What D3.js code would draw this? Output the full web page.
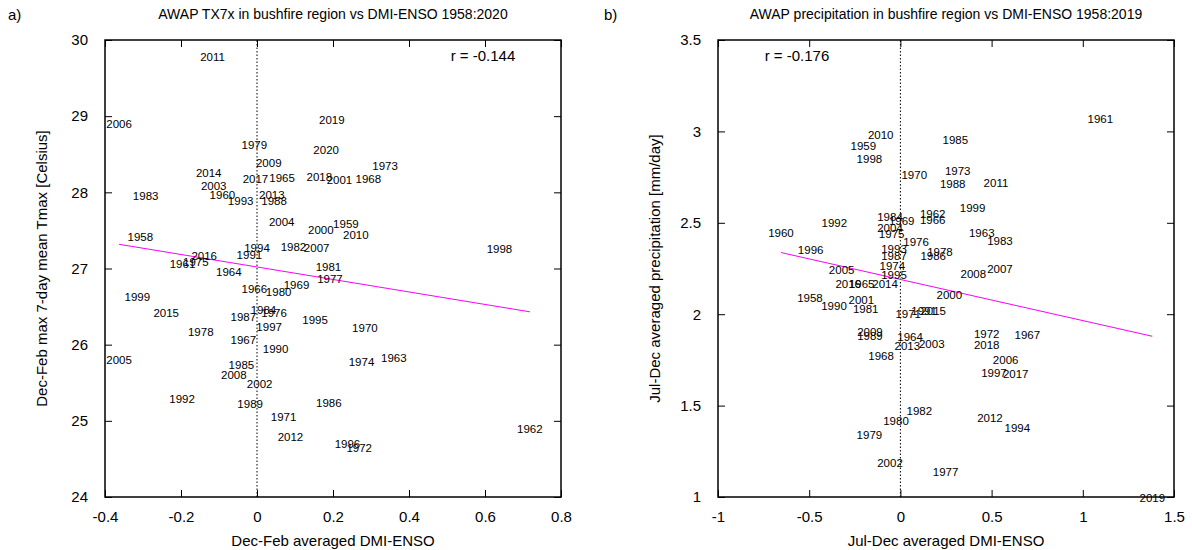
<!DOCTYPE html>
<html>
<head>
<meta charset="utf-8">
<script src="https://cdn.jsdelivr.net/npm/d3@7"></script>
<style>
  body { margin: 0; background: #fff; }
  svg text { font-family: "Liberation Sans", Arial, sans-serif; fill: #000; }
</style>
</head>
<body>
<div id="chart"></div>
<script>
// panel a) TX7x vs DMI-ENSO (Dec-Feb)
const yearsA = [1958,1959,1960,1961,1962,1963,1964,1965,1966,1967,1968,1969,1970,1971,1972,1973,1974,1975,1976,1977,1978,1979,1980,1981,1982,1983,1984,1985,1986,1987,1988,1989,1990,1991,1992,1993,1994,1995,1996,1997,1998,1999,2000,2001,2002,2003,2004,2005,2006,2007,2008,2009,2010,2011,2012,2013,2014,2015,2016,2017,2018,2019,2020];
const dmiA = [-0.307,0.234,-0.091,-0.196,0.718,0.360,-0.074,0.066,-0.007,-0.036,0.293,0.104,0.284,0.070,0.269,0.337,0.275,-0.161,0.045,0.192,-0.148,-0.007,0.057,0.188,0.096,-0.293,0.017,-0.041,0.189,-0.036,0.045,-0.018,0.049,-0.020,-0.197,-0.043,0.000,0.153,0.238,0.032,0.638,-0.315,0.168,0.217,0.007,-0.114,0.065,-0.363,-0.363,0.157,-0.061,0.031,0.260,-0.117,0.088,0.039,-0.127,-0.239,-0.139,-0.004,0.164,0.197,0.182];
const tx7xA = [27.42,27.58,27.97,27.06,24.89,25.82,26.95,28.19,26.73,26.06,28.18,26.78,26.22,25.05,24.64,28.34,25.77,27.08,26.41,26.86,26.17,28.62,26.69,27.02,27.28,27.95,26.45,25.73,25.24,26.36,27.88,25.22,25.95,27.18,25.29,27.88,27.27,26.33,24.70,26.23,27.26,26.63,27.50,28.16,25.48,28.09,27.61,25.80,28.90,27.27,25.60,28.38,27.44,29.78,24.79,27.97,28.25,26.42,27.17,28.18,28.20,28.95,28.55];
const fitA = [27.02, -0.82]; // intercept, slope
const xTicksA = [-0.4,-0.2,0,0.2,0.4,0.6,0.8];
const xTickLabelsA = ["-0.4","-0.2","0","0.2","0.4","0.6","0.8"];
const yTicksA = [24,25,26,27,28,29,30];
const yTickLabelsA = ["24","25","26","27","28","29","30"];

// panel b) precipitation vs DMI-ENSO (Jul-Dec)
const yearsB = [1958,1959,1960,1961,1962,1963,1964,1965,1966,1967,1968,1969,1970,1971,1972,1973,1974,1975,1976,1977,1978,1979,1980,1981,1982,1983,1984,1985,1986,1987,1988,1989,1990,1991,1992,1993,1994,1995,1996,1997,1998,1999,2000,2001,2002,2003,2004,2005,2006,2007,2008,2009,2010,2011,2012,2013,2014,2015,2016,2017,2018,2019];
const dmiB = [-0.496,-0.203,-0.655,1.096,0.177,0.446,0.053,-0.212,0.177,0.696,-0.106,0.007,0.076,0.043,0.473,0.314,-0.044,-0.048,0.086,0.248,0.217,-0.170,-0.024,-0.190,0.104,0.546,-0.057,0.301,0.180,-0.035,0.287,-0.167,-0.364,0.130,-0.362,-0.035,0.641,-0.035,-0.492,0.513,-0.170,0.396,0.268,-0.214,-0.057,0.172,-0.057,-0.322,0.577,0.546,0.400,-0.167,-0.108,0.524,0.491,0.038,-0.084,0.180,-0.286,0.632,0.473,1.381];
const precB = [2.087,2.919,2.447,3.067,2.550,2.447,1.877,2.168,2.513,1.884,1.773,2.511,2.762,2.002,1.892,2.786,2.263,2.440,2.394,1.135,2.339,1.338,1.417,2.027,1.472,2.400,2.530,2.952,2.321,2.321,2.711,1.883,2.043,2.020,2.501,2.358,1.380,2.217,2.349,1.680,2.849,2.583,2.106,2.078,1.188,1.837,2.471,2.243,1.749,2.248,2.221,1.901,2.979,2.720,1.435,1.828,2.168,2.020,2.168,1.673,1.833,0.993];
const fitB = [2.19, -0.225];
const xTicksB = [-1,-0.5,0,0.5,1,1.5];
const xTickLabelsB = ["-1","-0.5","0","0.5","1","1.5"];
const yTicksB = [1,1.5,2,2.5,3,3.5];
const yTickLabelsB = ["1","1.5","2","2.5","3","3.5"];

const width = 1192, height = 550;
const svg = d3.select('#chart').append('svg')
  .attr('width', width).attr('height', height);
svg.append('rect').attr('width', width).attr('height', height).attr('fill', '#fff');

function panel(opt) {
  const g = svg.append('g');
  const x = d3.scaleLinear().domain(opt.xDomain).range([opt.left, opt.left + 456]);
  const y = d3.scaleLinear().domain(opt.yDomain).range([opt.top + 457, opt.top]);
  const tl = 7;

  // dotted zero line
  g.append('line')
    .attr('x1', x(0)).attr('x2', x(0))
    .attr('y1', y.range()[0]).attr('y2', y.range()[1])
    .attr('stroke', '#000').attr('stroke-width', 1).attr('stroke-dasharray', '1.5,2');

  // axes: d3 axes with inward ticks, mirrored on top/right
  const fmtX = d => opt.xLabels[opt.xTicks.indexOf(d)];
  const fmtY = d => opt.yLabels[opt.yTicks.indexOf(d)];
  const axB = g.append('g').attr('transform', `translate(0,${y.range()[0]})`)
    .call(d3.axisBottom(x).tickValues(opt.xTicks).tickFormat(fmtX).tickSizeInner(-tl).tickSizeOuter(0).tickPadding(14));
  const axT = g.append('g').attr('transform', `translate(0,${y.range()[1]})`)
    .call(d3.axisTop(x).tickValues(opt.xTicks).tickFormat('').tickSizeInner(-tl).tickSizeOuter(0));
  const axL = g.append('g').attr('transform', `translate(${x.range()[0]},0)`)
    .call(d3.axisLeft(y).tickValues(opt.yTicks).tickFormat(fmtY).tickSizeInner(-tl).tickSizeOuter(0).tickPadding(17));
  const axR = g.append('g').attr('transform', `translate(${x.range()[1]},0)`)
    .call(d3.axisRight(y).tickValues(opt.yTicks).tickFormat('').tickSizeInner(-tl).tickSizeOuter(0));
  [axB, axT, axL, axR].forEach(a => {
    a.select('.domain').remove();
    a.selectAll('line').attr('stroke', '#000').attr('stroke-width', 1);
    a.selectAll('text').style('font-size', '15px').style('font-family', '"Liberation Sans", Arial, sans-serif').attr('fill', '#000');
  });

  // frame
  g.append('rect')
    .attr('x', x.range()[0]).attr('y', y.range()[1])
    .attr('width', x.range()[1] - x.range()[0]).attr('height', y.range()[0] - y.range()[1])
    .attr('fill', 'none').attr('stroke', '#000').attr('stroke-width', 1.5);

  // regression line over data range
  const [xmin, xmax] = d3.extent(opt.xs);
  g.append('line')
    .attr('x1', x(xmin)).attr('y1', y(opt.fit[0] + opt.fit[1] * xmin))
    .attr('x2', x(xmax)).attr('y2', y(opt.fit[0] + opt.fit[1] * xmax))
    .attr('stroke', '#ff00ff').attr('stroke-width', 1);

  // year labels as points
  g.append('g').selectAll('text').data(opt.years).join('text')
    .attr('x', (d, i) => x(opt.xs[i]))
    .attr('y', (d, i) => y(opt.ys[i]))
    .attr('dy', '0.35em')
    .attr('text-anchor', 'middle')
    .style('font-size', '11.5px')
    .text(d => d);

  // r value
  g.append('text').attr('x', opt.rX).attr('y', opt.top + 16).attr('dy', '0.35em')
    .attr('text-anchor', 'middle').style('font-size', '15px').text(opt.rText);

  // titles
  const cx = (x.range()[0] + x.range()[1]) / 2;
  g.append('text').attr('x', cx).attr('y', 19).attr('text-anchor', 'middle')
    .style('font-size', '14px').text(opt.title);
  g.append('text').attr('x', opt.tagX).attr('y', 20).style('font-size', '15px').text(opt.tag);
  g.append('text').attr('x', cx).attr('y', 546).attr('text-anchor', 'middle')
    .style('font-size', '15px').text(opt.xTitle);
  const cy = (y.range()[0] + y.range()[1]) / 2;
  g.append('text').attr('transform', `translate(${opt.left - 58},${cy}) rotate(-90)`)
    .attr('text-anchor', 'middle').style('font-size', '15px').text(opt.yTitle);
}

panel({
  left: 105, top: 40,
  xDomain: [-0.4, 0.8], yDomain: [24, 30],
  xTicks: xTicksA, xLabels: xTickLabelsA, yTicks: yTicksA, yLabels: yTickLabelsA,
  xs: dmiA, ys: tx7xA, years: yearsA, fit: fitA,
  rText: 'r = -0.144', rX: 483,
  title: 'AWAP TX7x in bushfire region vs DMI-ENSO 1958:2020', tag: 'a)', tagX: 8,
  xTitle: 'Dec-Feb averaged DMI-ENSO', yTitle: 'Dec-Feb max 7-day mean Tmax [Celsius]'
});

panel({
  left: 718, top: 40,
  xDomain: [-1, 1.5], yDomain: [1, 3.5],
  xTicks: xTicksB, xLabels: xTickLabelsB, yTicks: yTicksB, yLabels: yTickLabelsB,
  xs: dmiB, ys: precB, years: yearsB, fit: fitB,
  rText: 'r = -0.176', rX: 797,
  title: 'AWAP precipitation in bushfire region vs DMI-ENSO 1958:2019', tag: 'b)', tagX: 604,
  xTitle: 'Jul-Dec averaged DMI-ENSO', yTitle: 'Jul-Dec averaged precipitation [mm/day]'
});
</script>
</body>
</html>
